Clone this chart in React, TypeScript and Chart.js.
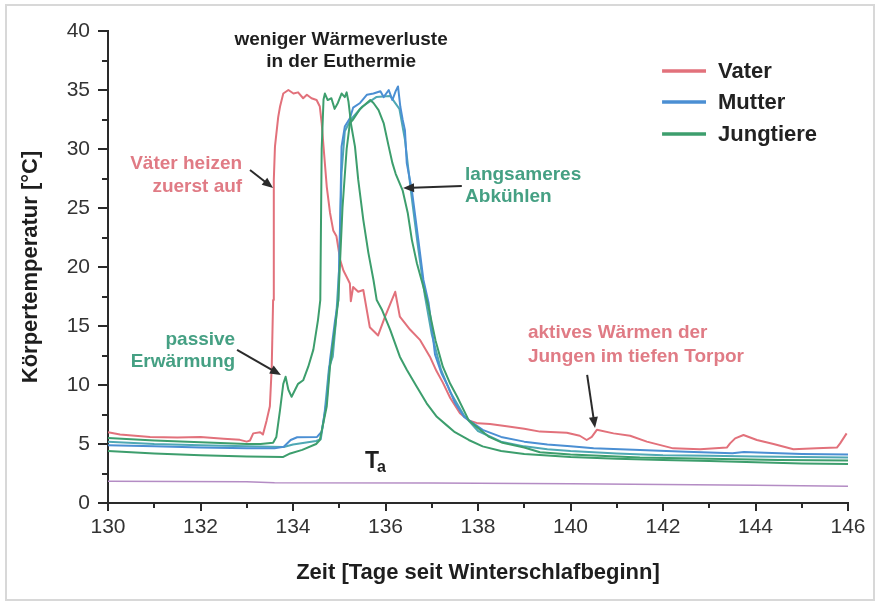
import React, { useEffect, useRef } from 'react';
import { Chart, registerables } from 'chart.js';

Chart.register(...registerables);

// ---------- data (day since start of hibernation, body temperature °C) ----------
const dayTicks = [130, 132, 134, 136, 138, 140, 142, 144, 146];
const dayMinorTicks = [131, 133, 135, 137, 139, 141, 143, 145];
const tempTicks = [0, 5, 10, 15, 20, 25, 30, 35, 40];
const tempMinorTicks = [2.5, 7.5, 12.5, 17.5, 22.5, 27.5, 32.5, 37.5];

const vater = [
  [130, 6.0], [130.26, 5.8], [130.91, 5.6], [131.5, 5.55], [132.0, 5.6], [132.5, 5.45], [132.85, 5.35],
  [133.0, 5.2], [133.07, 5.3], [133.14, 5.9], [133.29, 6.0], [133.35, 5.8], [133.43, 7.0], [133.5, 8.2],
  [133.54, 11.5], [133.57, 17.2], [133.585, 27.4], [133.61, 30.2], [133.68, 32.7], [133.72, 33.6],
  [133.79, 34.7], [133.9, 35.0], [134.01, 34.7], [134.11, 34.8], [134.22, 34.3], [134.3, 34.6],
  [134.4, 34.3], [134.51, 34.15], [134.58, 33.6], [134.62, 32.2], [134.66, 30.2], [134.73, 26.8],
  [134.8, 24.6], [134.87, 23.1], [134.94, 22.6], [135.02, 20.6], [135.09, 19.7], [135.18, 19.0],
  [135.23, 18.6], [135.25, 17.1], [135.3, 18.3], [135.41, 17.9], [135.52, 18.05], [135.66, 14.9],
  [135.84, 14.2], [135.99, 15.8], [136.21, 17.9], [136.31, 15.8], [136.53, 14.7], [136.75, 13.8],
  [136.96, 12.4], [137.1, 11.2], [137.24, 10.2], [137.4, 8.9], [137.61, 7.6], [137.8, 7.0],
  [138.0, 6.75], [138.26, 6.7], [138.62, 6.5], [139.0, 6.3], [139.34, 6.05], [139.92, 5.96],
  [140.2, 5.7], [140.35, 5.34], [140.46, 5.6], [140.57, 6.2], [140.93, 5.9], [141.29, 5.7],
  [141.65, 5.2], [142.22, 4.63], [142.8, 4.55], [143.38, 4.7], [143.45, 5.05], [143.56, 5.48],
  [143.74, 5.76], [144.03, 5.34], [144.39, 5.0], [144.82, 4.55], [145.32, 4.63], [145.76, 4.7],
  [145.83, 5.05], [145.97, 5.9],
];

const mutter = [
  [130, 4.9], [131, 4.8], [132, 4.7], [133, 4.65], [133.6, 4.63], [133.8, 4.77], [133.95, 5.34],
  [134.09, 5.57], [134.52, 5.6], [134.62, 6.05], [134.73, 8.7], [134.8, 12.1], [134.91, 15.5],
  [134.98, 17.2], [135.02, 24.0], [135.05, 30.2], [135.12, 31.9], [135.23, 32.6], [135.3, 33.5],
  [135.45, 33.9], [135.6, 34.6], [135.74, 34.7], [135.89, 34.9], [135.96, 34.4], [136.07, 35.0],
  [136.15, 34.15], [136.22, 34.9], [136.27, 35.3], [136.32, 33.6], [136.37, 32.5], [136.42, 31.6],
  [136.46, 28.8], [136.57, 26.5], [136.71, 22.3], [136.82, 18.9], [136.93, 17.0], [137.0, 14.9],
  [137.07, 12.6], [137.21, 11.0], [137.35, 9.9], [137.5, 8.5], [137.7, 7.3], [138.1, 6.2],
  [138.5, 5.6], [139.0, 5.2], [139.5, 4.95], [140.0, 4.8], [140.5, 4.65], [141.5, 4.5],
  [142.5, 4.35], [143.5, 4.22], [143.75, 4.32], [144.2, 4.25], [145.0, 4.15], [146.0, 4.1],
];

const jungtierA = [
  [130, 5.5], [131, 5.3], [132, 5.15], [133, 5.0], [133.3, 5.0], [133.57, 5.1], [133.64, 5.6],
  [133.72, 7.9], [133.79, 10.1], [133.84, 10.7], [133.9, 9.6], [133.97, 9.0], [134.11, 10.1],
  [134.22, 10.4], [134.33, 11.55], [134.44, 13.0], [134.54, 15.5], [134.59, 17.2], [134.62, 30.0],
  [134.66, 34.2], [134.69, 34.7], [134.75, 34.15], [134.83, 34.3], [134.9, 33.4], [134.97, 33.9],
  [135.05, 34.7], [135.12, 34.4], [135.16, 34.8], [135.2, 34.0], [135.23, 33.0], [135.25, 32.2],
  [135.34, 30.2], [135.41, 27.4], [135.52, 24.0], [135.63, 21.2], [135.74, 18.9], [135.81, 17.2],
  [135.92, 16.4], [136.1, 14.7], [136.31, 12.4], [136.46, 11.3], [136.67, 9.9], [136.89, 8.45],
  [137.11, 7.3], [137.32, 6.6], [137.5, 6.0], [137.8, 5.34], [138.1, 4.8], [138.5, 4.4],
  [139.0, 4.15], [139.34, 4.07], [140, 3.9], [141, 3.75], [142, 3.65], [143, 3.55], [144, 3.45],
  [145, 3.35], [146, 3.3],
];

const jungtierB = [
  [130, 4.4], [131, 4.2], [132, 4.05], [133, 3.95], [133.79, 3.9], [133.94, 4.2], [134.2, 4.5],
  [134.5, 5.0], [134.58, 5.34], [134.73, 8.2], [134.8, 11.55], [134.91, 14.9], [134.98, 17.2],
  [135.07, 25.0], [135.16, 30.0], [135.23, 32.2], [135.3, 32.5], [135.45, 33.4], [135.67, 34.15],
  [135.74, 33.9], [135.85, 33.3], [135.96, 32.2], [136.07, 30.2], [136.15, 28.8], [136.22, 27.9],
  [136.37, 26.5], [136.48, 24.6], [136.57, 22.3], [136.68, 20.3], [136.82, 18.3], [136.93, 16.6],
  [137.08, 13.8], [137.24, 11.55], [137.4, 10.1], [137.55, 9.0], [137.8, 7.0], [138.24, 5.6],
  [138.53, 5.1], [139.0, 4.7], [139.34, 4.3], [140, 4.1], [141.5, 3.85], [143, 3.75],
  [144.5, 3.65], [146, 3.6],
];

const jungtierC = [
  [130, 5.2], [131, 5.0], [132, 4.9], [133, 4.8], [133.8, 4.75], [134.0, 4.95], [134.5, 5.25],
  [134.6, 5.4], [134.68, 7.5], [134.78, 11.5], [134.86, 12.4], [134.93, 15.5], [135.0, 20.0],
  [135.05, 28.0], [135.12, 31.5], [135.25, 32.5], [135.5, 33.6], [135.8, 34.4], [136.1, 34.5],
  [136.3, 33.4], [136.42, 30.8], [136.55, 26.4], [136.7, 21.8], [136.85, 17.6], [137.0, 14.3],
  [137.2, 11.3], [137.4, 9.4], [137.7, 7.4], [138.0, 6.1], [138.5, 5.2], [139, 4.8], [139.5, 4.55],
  [140, 4.4], [141, 4.2], [142, 4.05], [143, 4.0], [144, 3.95], [145, 3.9], [146, 3.85],
];

const umgebung = [
  [130, 1.85], [133, 1.8], [133.6, 1.72], [137, 1.7], [140, 1.63], [142, 1.57], [144, 1.5], [146, 1.42],
];

const legendLabels = ['Vater', 'Mutter', 'Jungtiere'];

// ---------- styles ----------
const FONT = '"Liberation Sans", Arial, Helvetica, sans-serif';
const AXIS = '#2a2a2a';
const RED = '#e2717b';
const BLUE = '#4b8fd3';
const GREEN = '#3d9e6d';
const TEAL = '#4fa8b4';
const TA = '#b48cc4';
const RED_TEXT = '#e07b85';
const GREEN_TEXT = '#45a083';
const legendColors = [RED, BLUE, GREEN];

type Note = { text: string; x: number; y: number; align: CanvasTextAlign; color: string };
const notes: Note[] = [
  { text: 'weniger Wärmeverluste', x: 135.04, y: 39.24, align: 'center', color: '#1e1e1e' },
  { text: 'in der Euthermie', x: 135.04, y: 37.37, align: 'center', color: '#1e1e1e' },
  { text: 'Väter heizen', x: 132.9, y: 28.73, align: 'right', color: RED_TEXT },
  { text: 'zuerst auf', x: 132.9, y: 26.78, align: 'right', color: RED_TEXT },
  { text: 'langsameres', x: 137.72, y: 27.8, align: 'left', color: GREEN_TEXT },
  { text: 'Abkühlen', x: 137.72, y: 25.93, align: 'left', color: GREEN_TEXT },
  { text: 'passive', x: 132.75, y: 13.81, align: 'right', color: GREEN_TEXT },
  { text: 'Erwärmung', x: 132.75, y: 11.95, align: 'right', color: GREEN_TEXT },
  { text: 'aktives Wärmen der', x: 139.08, y: 14.41, align: 'left', color: RED_TEXT },
  { text: 'Jungen im tiefen Torpor', x: 139.08, y: 12.37, align: 'left', color: RED_TEXT },
];
const arrows = [
  [133.07, 28.22, 133.57, 26.69],
  [137.65, 26.86, 136.38, 26.69],
  [132.79, 12.97, 133.74, 10.85],
  [140.36, 10.85, 140.53, 6.36],
];

function drawArrow(ctx: CanvasRenderingContext2D, x1: number, y1: number, x2: number, y2: number) {
  const a = Math.atan2(y2 - y1, x2 - x1);
  const L = 11, W = 4.5;
  ctx.beginPath();
  ctx.moveTo(x1, y1);
  ctx.lineTo(x2 - (L - 2) * Math.cos(a), y2 - (L - 2) * Math.sin(a));
  ctx.stroke();
  ctx.beginPath();
  ctx.moveTo(x2, y2);
  ctx.lineTo(x2 - L * Math.cos(a) + W * Math.sin(a), y2 - L * Math.sin(a) - W * Math.cos(a));
  ctx.lineTo(x2 - L * Math.cos(a) - W * Math.sin(a), y2 - L * Math.sin(a) + W * Math.cos(a));
  ctx.closePath();
  ctx.fill();
}

const overlay = {
  id: 'overlay',
  beforeDraw(chart: any) {
    const { ctx, width, height } = chart;
    ctx.save();
    ctx.fillStyle = '#ffffff';
    ctx.fillRect(0, 0, width, height);
    ctx.strokeStyle = '#d8d8d8';
    ctx.lineWidth = 2;
    ctx.strokeRect(6, 5, width - 11, height - 8);
    ctx.restore();
  },
  afterDraw(chart: any) {
    const { ctx, chartArea } = chart;
    const xs = chart.scales.x;
    const ys = chart.scales.y;
    ctx.save();
    ctx.strokeStyle = AXIS;
    ctx.fillStyle = AXIS;
    ctx.lineWidth = 2;
    const tick = (x1: number, y1: number, x2: number, y2: number) => {
      ctx.beginPath();
      ctx.moveTo(x1, y1);
      ctx.lineTo(x2, y2);
      ctx.stroke();
    };
    dayTicks.forEach((v) => { const p = Math.round(xs.getPixelForValue(v)); tick(p, chartArea.bottom, p, chartArea.bottom + 8); });
    dayMinorTicks.forEach((v) => { const p = Math.round(xs.getPixelForValue(v)); tick(p, chartArea.bottom, p, chartArea.bottom + 5); });
    tempTicks.forEach((v) => { const p = Math.round(ys.getPixelForValue(v)); tick(chartArea.left, p, chartArea.left - 10, p); });
    tempMinorTicks.forEach((v) => { const p = Math.round(ys.getPixelForValue(v)); tick(chartArea.left, p, chartArea.left - 6, p); });

    // annotations
    ctx.font = `bold 19px ${FONT}`;
    ctx.textBaseline = 'middle';
    notes.forEach((n) => {
      ctx.fillStyle = n.color;
      ctx.textAlign = n.align;
      ctx.fillText(n.text, xs.getPixelForValue(n.x), ys.getPixelForValue(n.y));
    });
    ctx.strokeStyle = '#2b2b2b';
    ctx.fillStyle = '#2b2b2b';
    ctx.lineWidth = 2;
    arrows.forEach(([a, b, c, d]) =>
      drawArrow(ctx, xs.getPixelForValue(a), ys.getPixelForValue(b), xs.getPixelForValue(c), ys.getPixelForValue(d)));

    // T_a label
    ctx.fillStyle = '#1e1e1e';
    ctx.textAlign = 'left';
    ctx.textBaseline = 'alphabetic';
    ctx.font = `bold 23px ${FONT}`;
    const tx = xs.getPixelForValue(135.557);
    const ty = ys.getPixelForValue(2.97);
    ctx.fillText('T', tx, ty);
    ctx.font = `bold 16px ${FONT}`;
    ctx.fillText('a', tx + 12, ty + 4);

    // legend
    const lx1 = xs.getPixelForValue(141.98);
    const lx2 = xs.getPixelForValue(142.93);
    const tx2 = xs.getPixelForValue(143.19);
    const lys = [36.61, 33.98, 31.27];
    ctx.font = `bold 22px ${FONT}`;
    ctx.textBaseline = 'middle';
    legendLabels.forEach((label, i) => {
      const y = ys.getPixelForValue(lys[i]);
      ctx.strokeStyle = legendColors[i];
      ctx.lineWidth = 3.5;
      ctx.beginPath();
      ctx.moveTo(lx1, y);
      ctx.lineTo(lx2, y);
      ctx.stroke();
      ctx.fillStyle = '#222222';
      ctx.fillText(label, tx2, y + 1);
    });
    ctx.restore();
  },
};

const toXY = (arr: number[][]) => arr.map(([x, y]) => ({ x, y }));

export default function App() {
  const ref = useRef<HTMLCanvasElement | null>(null);
  useEffect(() => {
    if (!ref.current) return;
    const chart = new Chart(ref.current, {
      type: 'line',
      data: {
        datasets: [
          { label: 'Jungtiere', data: toXY(jungtierA), borderColor: GREEN },
          { label: 'Jungtiere 2', data: toXY(jungtierB), borderColor: GREEN },
          { label: 'Mutter', data: toXY(mutter), borderColor: BLUE },
          { label: 'Jungtiere 3', data: toXY(jungtierC), borderColor: TEAL },
          { label: 'Vater', data: toXY(vater), borderColor: RED },
          { label: 'Ta', data: toXY(umgebung), borderColor: TA, borderWidth: 1.5 },
        ],
      },
      options: {
        responsive: false,
        animation: false,
        parsing: true,
        elements: {
          point: { radius: 0, hoverRadius: 0 },
          line: { borderWidth: 2, tension: 0, borderJoinStyle: 'round', fill: false },
        },
        layout: { padding: { top: 31, right: 31, bottom: 0, left: 0 } },
        plugins: { legend: { display: false }, tooltip: { enabled: false } },
        events: [],
        scales: {
          x: {
            type: 'linear',
            min: 130,
            max: 146,
            afterBuildTicks: (s: any) => { s.ticks = dayTicks.map((v) => ({ value: v })); },
            afterFit: (s: any) => { s.height = 100; },
            grid: { display: false, drawTicks: false, tickLength: 0 },
            border: { display: true, color: AXIS, width: 2 },
            ticks: { font: { family: FONT, size: 21 }, color: '#333333', padding: 12, maxRotation: 0, autoSkip: false },
            title: {
              display: true,
              text: 'Zeit [Tage seit Winterschlafbeginn]',
              font: { family: FONT, size: 22, weight: 'bold' },
              color: '#1e1e1e',
              padding: { top: 0, bottom: 17 },
            },
          },
          y: {
            type: 'linear',
            min: 0,
            max: 40,
            afterBuildTicks: (s: any) => { s.ticks = tempTicks.map((v) => ({ value: v })); },
            afterFit: (s: any) => { s.width = 108; },
            grid: { display: false, drawTicks: false, tickLength: 0 },
            border: { display: true, color: AXIS, width: 2 },
            ticks: { font: { family: FONT, size: 21 }, color: '#333333', padding: 18, autoSkip: false },
            title: {
              display: true,
              text: 'Körpertemperatur [°C]',
              font: { family: FONT, size: 22, weight: 'bold' },
              color: '#1e1e1e',
              padding: { top: 18, bottom: 0 },
            },
          },
        },
      },
      plugins: [overlay],
    } as any);
    return () => chart.destroy();
  }, []);
  return (
    <div style={{ position: 'fixed', left: 0, top: 0, width: 879, height: 603, background: '#fff' }}>
      <canvas ref={ref} width={879} height={603} style={{ display: 'block', width: 879, height: 603 }} />
    </div>
  );
}
